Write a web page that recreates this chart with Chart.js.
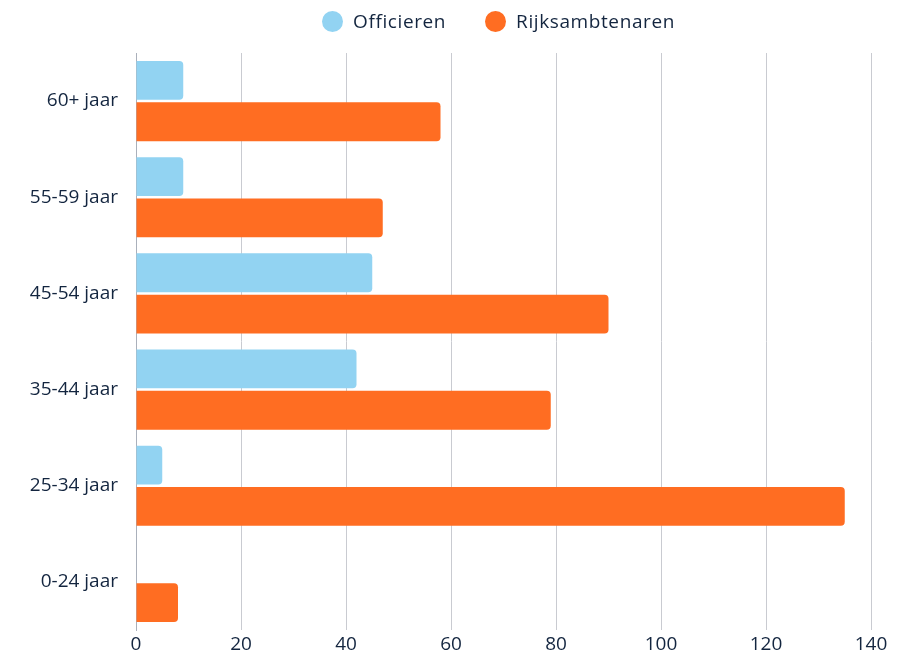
<!DOCTYPE html>
<html>
<head>
<meta charset="utf-8">
<script src="https://cdn.jsdelivr.net/npm/chart.js@4"></script>
<style>
  html, body { margin: 0; padding: 0; background: #fff; }
  #wrap { position: relative; width: 912px; height: 655px; }
  #legend {
    position: absolute; left: 136px; top: 8px; width: 725px;
    display: flex; justify-content: center; gap: 39px;
    font-family: "Open Sans", sans-serif; font-size: 19px; color: #13253f;
    letter-spacing: 0.6px;
  }
  #legend .item { display: flex; align-items: center; line-height: 26px; }
  #legend .dot { width: 21px; height: 21px; border-radius: 50%; margin-right: 10px; }
</style>
</head>
<body>
<div id="wrap">
  <div id="legend"></div>
  <canvas id="chart"></canvas>
</div>
<script>
// data
const categories = ["60+ jaar", "55-59 jaar", "45-54 jaar", "35-44 jaar", "25-34 jaar", "0-24 jaar"];
const officieren = [9, 9, 45, 42, 5, 0];
const rijksambtenaren = [58, 47, 90, 79, 135, 8];
const xTicks = [0, 20, 40, 60, 80, 100, 120, 140];

const textColor = "#13253f";
const fontFamily = "'Open Sans', sans-serif";

const chart = new Chart(document.getElementById("chart"), {
  type: "bar",
  data: {
    labels: categories,
    datasets: [
      {
        label: "Officieren",
        data: officieren,
        backgroundColor: "#92d3f2",
        borderRadius: 4,
        borderSkipped: "start",
      },
      {
        label: "Rijksambtenaren",
        data: rijksambtenaren,
        backgroundColor: "#ff6d22",
        borderRadius: 4,
        borderSkipped: "start",
      },
    ],
  },
  options: {
    indexAxis: "y",
    responsive: true,
    maintainAspectRatio: false,
    animation: false,
    categoryPercentage: 0.86,
    barPercentage: 0.94,
    layout: { padding: { left: 0, right: 41, top: 53, bottom: 0 } },
    plugins: {
      legend: { display: false },
      tooltip: { enabled: false },
    },
    scales: {
      x: {
        min: 0,
        max: 140,
        afterBuildTicks: (scale) => {
          scale.ticks = xTicks.map((v) => ({ value: v }));
        },
        afterFit: (scale) => {
          scale.height = 25;
        },
        grid: { color: "#c9cbd1", drawTicks: false },
        border: { display: false },
        ticks: {
          padding: 3,
          color: textColor,
          font: { family: fontFamily, size: 19 },
        },
      },
      y: {
        afterFit: (scale) => {
          scale.width = 136;
        },
        grid: { display: false },
        border: { display: true, color: "#aab0bb", width: 1 },
        ticks: {
          padding: 10,
          color: textColor,
          font: { family: fontFamily, size: 19 },
        },
      },
    },
  },
});

// legend built from the datasets
const legendEl = document.getElementById("legend");
chart.data.datasets.forEach((ds) => {
  const item = document.createElement("div");
  item.className = "item";
  const dot = document.createElement("span");
  dot.className = "dot";
  dot.style.background = ds.backgroundColor;
  const text = document.createElement("span");
  text.textContent = ds.label;
  item.appendChild(dot);
  item.appendChild(text);
  legendEl.appendChild(item);
});
</script>
</body>
</html>
